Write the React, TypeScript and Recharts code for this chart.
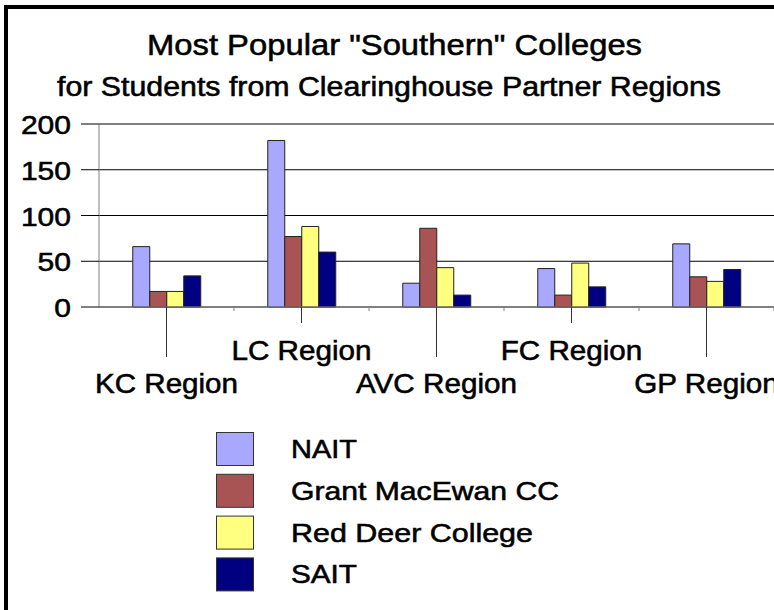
import React from 'react';
import { BarChart, Bar, XAxis, YAxis, CartesianGrid, Legend } from 'recharts';

const categories = ['KC Region', 'LC Region', 'AVC Region', 'FC Region', 'GP Region'];
const naitValues = [66, 182, 26, 42, 69];
const grantValues = [17, 77, 86, 13, 33];
const redDeerValues = [17, 88, 43, 48, 28];
const saitValues = [34, 60, 13, 22, 41];
const seriesNames = ['NAIT', 'Grant MacEwan CC', 'Red Deer College', 'SAIT'];
const yTicks = [0, 50, 100, 150, 200];
const titleLines = ['Most Popular "Southern" Colleges', 'for Students from Clearinghouse Partner Regions'];

const data = categories.map((c, i) => ({
  region: c,
  nait: naitValues[i],
  grant: grantValues[i],
  redDeer: redDeerValues[i],
  sait: saitValues[i],
}));

const FONT = '"Liberation Sans", Arial, Helvetica, sans-serif';
const TEXT_STROKE = 0.55;

const LABEL_W: Record<string, number> = {
  'KC Region': 143,
  'LC Region': 140,
  'AVC Region': 161,
  'FC Region': 141.5,
  'GP Region': 144.5,
};
const LEGEND_W: Record<string, number> = {
  NAIT: 66,
  'Grant MacEwan CC': 268,
  'Red Deer College': 242,
  SAIT: 66,
};

const XTick = (props: any) => {
  const { x, y, payload, index } = props;
  const low = index % 2 === 0;
  const label = String(payload.value);
  return (
    <g>
      <line x1={x} y1={y} x2={x} y2={y + (low ? 50 : 16)} stroke="#333" strokeWidth={1} />
      <line x1={x + 67.5} y1={y} x2={x + 67.5} y2={y + 4} stroke="#808080" strokeWidth={1} />
      <text
        x={x}
        y={y + (low ? 86 : 53)}
        textAnchor="middle"
        fontSize={27}
        fontFamily={FONT}
        fill="#000"
        stroke="#000"
        strokeWidth={TEXT_STROKE}
        textLength={LABEL_W[label] ?? 140}
        lengthAdjust="spacingAndGlyphs"
      >
        {label}
      </text>
    </g>
  );
};

const YTick = (props: any) => {
  const { x, y, payload } = props;
  const s = String(payload.value);
  return (
    <text
      x={x}
      y={y + 10}
      textAnchor="end"
      fontSize={26}
      fontFamily={FONT}
      fill="#000"
      stroke="#000"
      strokeWidth={TEXT_STROKE}
      textLength={16.7 * s.length}
      lengthAdjust="spacingAndGlyphs"
    >
      {s}
    </text>
  );
};

const LegendContent = (props: any) => {
  const payload = [...(props.payload || [])].sort(
    (a: any, b: any) => seriesNames.indexOf(String(a.value)) - seriesNames.indexOf(String(b.value)),
  );
  return (
    <svg width={360} height={172} style={{ display: 'block', overflow: 'visible' }}>
      {payload.map((item: any, i: number) => {
        const name = String(item.value);
        return (
          <g key={name}>
            <rect x={0.5} y={i * 41.8 + 0.5} width={37} height={33} fill={item.color} stroke="#333" strokeWidth={1} />
            <text
              x={75}
              y={i * 41.8 + 26}
              fontSize={25.5}
              fontFamily={FONT}
              fill="#000"
              stroke="#000"
              strokeWidth={TEXT_STROKE}
              textLength={LEGEND_W[name] ?? 100}
              lengthAdjust="spacingAndGlyphs"
            >
              {name}
            </text>
          </g>
        );
      })}
    </svg>
  );
};

export default function App() {
  return (
    <div
      style={{
        position: 'absolute',
        left: 0,
        top: 0,
        width: 774,
        height: 610,
        overflow: 'hidden',
        background: '#fff',
        fontFamily: FONT,
      }}
    >
      <BarChart
        width={774}
        height={610}
        data={data}
        margin={{ top: 124, right: 0, bottom: 0, left: 0 }}
        barCategoryGap="25%"
        barGap={0}
      >
        <CartesianGrid horizontal vertical={false} stroke="#000" strokeWidth={1} />
        <XAxis
          dataKey="region"
          height={303}
          interval={0}
          tickSize={0}
          tickMargin={0}
          axisLine={{ stroke: '#808080', strokeWidth: 1 }}
          tickLine={false}
          tick={<XTick />}
        />
        <YAxis
          width={99}
          domain={[0, 200]}
          ticks={yTicks}
          interval={0}
          tickSize={18}
          tickMargin={10}
          axisLine={{ stroke: '#808080', strokeWidth: 1 }}
          tickLine={{ stroke: '#000', strokeWidth: 1 }}
          tick={<YTick />}
        />
        <Legend
          layout="vertical"
          align="center"
          verticalAlign="middle"
          wrapperStyle={{ left: 216, top: 432, width: 360, height: 172 }}
          content={<LegendContent />}
        />
        <Bar dataKey="nait" name={seriesNames[0]} fill="#A8A8FF" stroke="#222" strokeWidth={1} isAnimationActive={false} />
        <Bar dataKey="grant" name={seriesNames[1]} fill="#A85454" stroke="#222" strokeWidth={1} isAnimationActive={false} />
        <Bar dataKey="redDeer" name={seriesNames[2]} fill="#FFFF80" stroke="#222" strokeWidth={1} isAnimationActive={false} />
        <Bar dataKey="sait" name={seriesNames[3]} fill="#000080" stroke="#222" strokeWidth={1} isAnimationActive={false} />
      </BarChart>
      <svg
        width={774}
        height={610}
        style={{ position: 'absolute', left: 0, top: 0, pointerEvents: 'none' }}
      >
        <line x1={6} y1={7} x2={774} y2={7} stroke="#000" strokeWidth={4} />
        <line x1={6} y1={5} x2={6} y2={610} stroke="#000" strokeWidth={4} />
        <text x={394.5} y={55} textAnchor="middle" fontSize={30} fontFamily={FONT} fill="#000" stroke="#000" strokeWidth={TEXT_STROKE} textLength={495} lengthAdjust="spacingAndGlyphs">
          {titleLines[0]}
        </text>
        <text x={389} y={96} textAnchor="middle" fontSize={27} fontFamily={FONT} fill="#000" stroke="#000" strokeWidth={TEXT_STROKE} textLength={664} lengthAdjust="spacingAndGlyphs">
          {titleLines[1]}
        </text>
      </svg>
    </div>
  );
}
